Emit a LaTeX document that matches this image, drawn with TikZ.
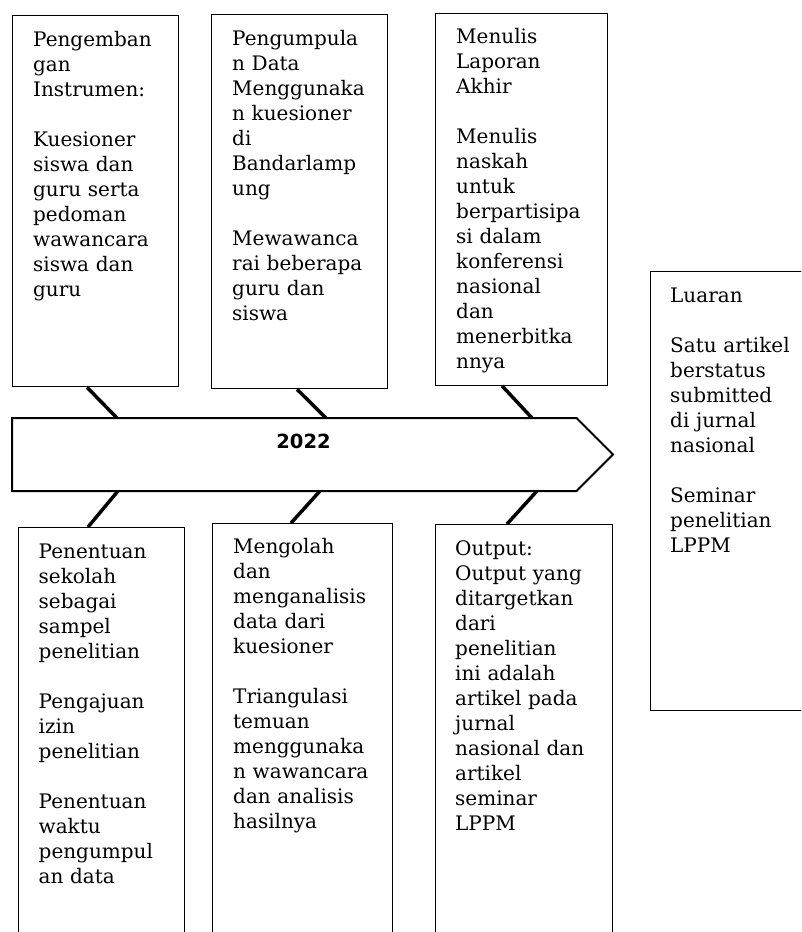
\documentclass[tikz,border=0pt]{standalone}
\usepackage{fontspec}
\setmainfont{DejaVu Serif}
\newfontfamily\yearfont{DejaVu Sans}
\usetikzlibrary{calc}
\begin{document}
\begin{tikzpicture}[x=1pt,y=-1pt,
  boxshape/.style={draw, line width=1.3pt, rectangle, inner sep=0pt, anchor=north west},
  txt/.style={anchor=base west, inner sep=0pt, align=left, text width=200pt, font=\fontsize{20}{25}\selectfont},
  link/.style={line width=3.5pt},
  arrowshape/.style={draw, line width=2pt, line join=miter}]
\useasboundingbox (0,0) rectangle (801,932);
\clip (0,0) rectangle (801,932);

% boxes
\node[boxshape, minimum width=166pt, minimum height=371pt] (t1) at (12,15) {};
\node[boxshape, minimum width=176pt, minimum height=374pt] (t2) at (211,14) {};
\node[boxshape, minimum width=172pt, minimum height=372pt] (t3) at (435,12.5) {};
\node[boxshape, minimum width=180pt, minimum height=439pt] (out) at (650,271) {};
\node[boxshape, minimum width=166pt, minimum height=440pt] (b1) at (18,527) {};
\node[boxshape, minimum width=180pt, minimum height=440pt] (b2) at (212,523) {};
\node[boxshape, minimum width=177pt, minimum height=440pt] (b3) at (435,524) {};

% timeline arrow
\draw[arrowshape] (12,418) -- (576.5,418) -- (613,454.5) -- (576.5,491) -- (12,491) -- cycle;
\coordinate (a1) at (117,418);
\coordinate (a2) at (326,418);
\coordinate (a3) at (532,418);
\coordinate (a4) at (118,491);
\coordinate (a5) at (320,491);
\coordinate (a6) at (537,491);
\node[anchor=base, inner sep=0pt, font=\yearfont\bfseries\fontsize{19.5}{20}\selectfont] (year) at (303.5,448) {2022};

% connectors
\draw[link] ($(t1.south west)+(75,0)$) -- (a1);
\draw[link] ($(t2.south west)+(86,0)$) -- (a2);
\draw[link] ($(t3.south west)+(67,0)$) -- (a3);
\draw[link] (a4) -- ($(b1.north west)+(70,0)$);
\draw[link] (a5) -- ($(b2.north west)+(79,0)$);
\draw[link] (a6) -- ($(b3.north west)+(72,0)$);

% texts
\node[txt] (t1text) at (33,46) {Pengemban\\gan\\Instrumen:\\[25pt]Kuesioner\\siswa dan\\guru serta\\pedoman\\wawancara\\siswa dan\\guru};
\node[txt] (t2text) at (232,45) {Pengumpula\\n Data\\Menggunaka\\n kuesioner\\di\\Bandarlamp\\ung\\[25pt]Mewawanca\\rai beberapa\\guru dan\\siswa};
\node[txt] (t3text) at (456,43.5) {Menulis\\Laporan\\Akhir\\[25pt]Menulis\\naskah\\untuk\\berpartisipa\\si dalam\\konferensi\\nasional\\dan\\menerbitka\\nnya};
\node[txt] (outtext) at (670,302) {Luaran\\[25pt]Satu artikel\\berstatus\\submitted\\di jurnal\\nasional\\[25pt]Seminar\\penelitian\\LPPM};
\node[txt] (b1text) at (38.5,558) {Penentuan\\sekolah\\sebagai\\sampel\\penelitian\\[25pt]Pengajuan\\izin\\penelitian\\[25pt]Penentuan\\waktu\\pengumpul\\an data};
\node[txt] (b2text) at (233,553) {Mengolah\\dan\\menganalisis\\data dari\\kuesioner\\[25pt]Triangulasi\\temuan\\menggunaka\\n wawancara\\dan analisis\\hasilnya};
\node[txt] (b3text) at (455,555) {Output:\\Output yang\\ditargetkan\\dari\\penelitian\\ini adalah\\artikel pada\\jurnal\\nasional dan\\artikel\\seminar\\LPPM};
\end{tikzpicture}
\end{document}
